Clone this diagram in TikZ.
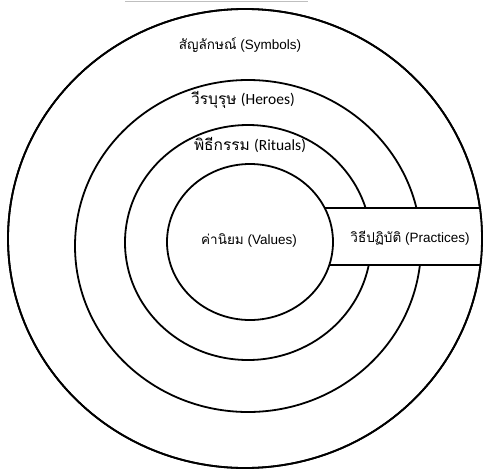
\documentclass[tikz,border=0pt]{standalone}
\usepackage{fontspec}
\setmainfont{Liberation Sans}
\newfontfamily\thaifont[Script=Thai]{Loma}
\newfontfamily\califont{Carlito}
\usetikzlibrary{positioning}

\begin{document}
\begin{tikzpicture}[x=1pt, y=-1pt, line width=1.8pt,
    lbl/.style={inner sep=1pt, font=\fontsize{13.5}{15}\selectfont},
    cal/.style={inner sep=1pt, font=\fontsize{15.5}{17}\selectfont}]
    \useasboundingbox (0,0) rectangle (485,472);
    \draw[black!25, line width=1pt] (125,1) -- (308,1);

    \draw (245,238.5) ellipse [x radius=237pt, y radius=229.5pt];
    \draw (248,246) ellipse [x radius=173pt, y radius=166pt];
    \draw (248,242.5) ellipse [x radius=123pt, y radius=117.5pt];
    \begin{scope}
        \clip (245,238.5) ellipse [x radius=237pt, y radius=229.5pt];
        \draw[fill=white] (250,208) rectangle (490,265);
    \end{scope}
    \draw[fill=white] (250,242) ellipse [x radius=83pt, y radius=78pt];
    \draw (245,238.5) ellipse [x radius=237pt, y radius=229.5pt];

    \node[lbl] (symbols) at (240,45) {{\thaifont สัญลักษณ์} (Symbols)};
    \node[cal] (heroes) at (243,100) {{\thaifont วีรบุรุษ} {\califont (Heroes)}};
    \node[cal] (rituals) at (250,145) {{\thaifont พิธีกรรม} {\califont (Rituals)}};
    \node[lbl] (values) at (249,240) {{\thaifont ค่านิยม} (Values)};
    \node[lbl] (practices) at (410,238) {{\thaifont วิธีปฏิบัติ} (Practices)};
\end{tikzpicture}
\end{document}
